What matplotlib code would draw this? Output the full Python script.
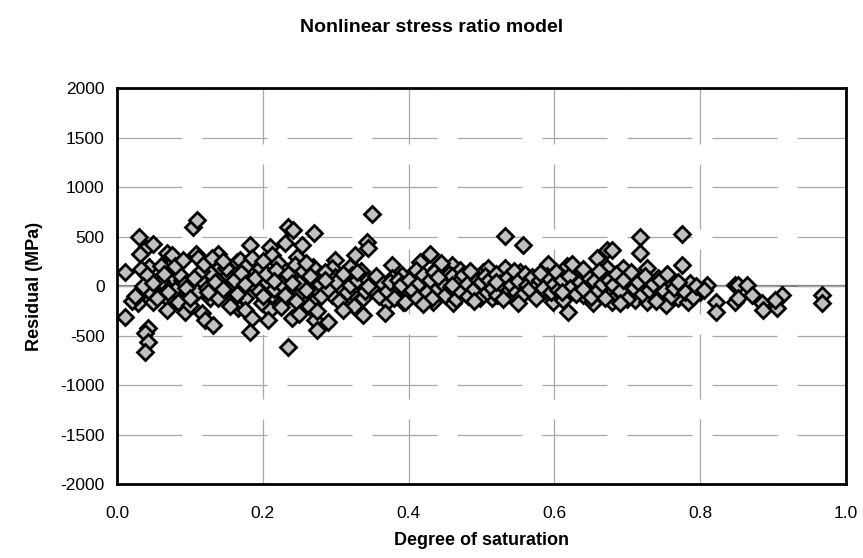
import matplotlib
matplotlib.use("Agg")
import matplotlib.pyplot as plt
from matplotlib.ticker import MultipleLocator

# degree of saturation / residual (MPa)
sat_edge = [0.104, 0.110, 0.030, 0.040, 0.050, 0.031, 0.044, 0.011, 0.033, 0.041,
            0.069, 0.076, 0.108, 0.111, 0.139, 0.141, 0.128, 0.075, 0.089, 0.104,
            0.118, 0.066, 0.080, 0.096, 0.110, 0.123, 0.152, 0.155, 0.030, 0.045,
            0.029, 0.050, 0.069, 0.069, 0.084, 0.093, 0.100, 0.117, 0.121, 0.132,
            0.128, 0.139, 0.011, 0.043, 0.038, 0.043, 0.038, 0.164, 0.166]
res_edge = [596, 667, 495, 384, 424, 323, 192, 141, 172, 111,
            333, 313, 323, 283, 323, 192, 131, 91, 60, 40,
            30, -10, -40, -60, -60, -20, 111, -40, -91, -60,
            -172, -162, -121, -242, -162, -262, -192, -273, -343, -394,
            -121, -121, -313, -424, -475, -565, -667, 242, -222]

sat_low = [0.235, 0.241, 0.270, 0.182, 0.210, 0.230, 0.254, 0.169, 0.185, 0.213,
           0.247, 0.299, 0.326, 0.176, 0.196, 0.221, 0.244, 0.269, 0.295, 0.320,
           0.176, 0.206, 0.221, 0.241, 0.269, 0.299, 0.322, 0.171, 0.189, 0.213,
           0.233, 0.251, 0.274, 0.295, 0.324, 0.176, 0.199, 0.226, 0.254, 0.269,
           0.176, 0.210, 0.240, 0.207, 0.185, 0.182, 0.272, 0.289, 0.274, 0.235,
           0.331, 0.329]
res_low = [596, 566, 535, 414, 394, 434, 414, 263, 283, 313,
           293, 263, 313, 192, 182, 232, 212, 192, 182, 192,
           91, 40, 81, 81, 60, 91, 111, -20, -10, -91,
           -20, -71, -61, -91, -71, -121, -172, -162, -242, -162,
           -242, -242, -323, -343, -323, -465, -343, -363, -444, -616,
           -242, -172]

sat_mid = [0.350, 0.343, 0.345, 0.377, 0.429, 0.416, 0.439, 0.460, 0.471, 0.405,
           0.391, 0.377, 0.443, 0.464, 0.487, 0.502, 0.337, 0.361, 0.395, 0.422,
           0.436, 0.454, 0.477, 0.505, 0.370, 0.368, 0.392, 0.418, 0.434, 0.461,
           0.337, 0.337]
res_mid = [727, 444, 384, 212, 323, 242, 182, 212, 162, 91,
           111, 81, 81, 60, 81, 141, 10, -40, -60, 10,
           -40, -40, -71, -20, -162, -273, -162, -111, -162, -172,
           -121, -293]

sat_high = [0.532, 0.557, 0.591, 0.617, 0.658, 0.673, 0.673, 0.638, 0.532, 0.553,
            0.509, 0.514, 0.532, 0.543, 0.573, 0.569, 0.584, 0.604, 0.615, 0.628,
            0.639, 0.656, 0.669, 0.514, 0.546, 0.598, 0.619, 0.653, 0.679,
            0.717, 0.717, 0.775, 0.775, 0.679, 0.694, 0.727, 0.742, 0.759, 0.786,
            0.809, 0.686, 0.704, 0.720, 0.686, 0.711, 0.727, 0.754, 0.770, 0.783,
            0.800, 0.741, 0.822, 0.822, 0.848, 0.848, 0.694,
            0.852, 0.864, 0.852, 0.871, 0.885, 0.886, 0.912, 0.905, 0.903, 0.967,
            0.967]
res_high = [505, 414, 222, 202, 283, 364, 182, 141, 182, 141,
            182, 10, -40, -10, 40, -71, -61, -91, -71, 40,
            -91, 10, -71, -121, -121, -162, -262, -172, -162,
            495, 333, 525, 212, 364, 182, 182, 81, 40, 30,
            10, 40, 10, 30, -91, -141, -162, -192, -121, -162,
            -61, -91, -162, -262, 10, -162, -91,
            10, 10, -121, -91, -172, -242, -91, -222, -141, -91,
            -172]

# the crowded band, estimated by eye
sat_band = [0.06, 0.07, 0.085, 0.095, 0.115, 0.125, 0.135, 0.145, 0.15, 0.16,
            0.16, 0.17, 0.175, 0.19, 0.195, 0.2, 0.2, 0.205, 0.215, 0.218,
            0.225, 0.23, 0.235, 0.245, 0.25, 0.255, 0.26, 0.263, 0.265, 0.278,
            0.28, 0.285, 0.29, 0.3, 0.305, 0.31, 0.315, 0.32, 0.325, 0.33,
            0.335, 0.34, 0.345, 0.35, 0.355, 0.36, 0.365, 0.37, 0.375, 0.38,
            0.385, 0.39, 0.395, 0.4, 0.405, 0.41, 0.412, 0.415, 0.42, 0.425,
            0.43, 0.432, 0.435, 0.44, 0.445, 0.448, 0.45, 0.455, 0.458, 0.46,
            0.465, 0.468, 0.47, 0.475, 0.48, 0.482, 0.485, 0.49, 0.495, 0.498,
            0.5, 0.505, 0.508, 0.51, 0.515, 0.52, 0.522, 0.525, 0.53, 0.535,
            0.54, 0.545, 0.548, 0.55, 0.555, 0.56, 0.562, 0.565, 0.57, 0.575,
            0.578, 0.58, 0.585, 0.59, 0.595, 0.6, 0.602, 0.605, 0.61, 0.612,
            0.62, 0.622, 0.625, 0.63, 0.635, 0.64, 0.645, 0.65, 0.655, 0.66,
            0.662, 0.665, 0.67, 0.675, 0.68, 0.685, 0.69, 0.695, 0.7, 0.705,
            0.71, 0.715, 0.72, 0.725, 0.73, 0.735, 0.74, 0.745, 0.75, 0.755,
            0.76, 0.765, 0.77, 0.78, 0.79, 0.795, 0.805,
            0.02, 0.025, 0.035, 0.05, 0.055, 0.06, 0.065, 0.08, 0.09, 0.1,
            0.105, 0.12, 0.13, 0.145, 0.155, 0.165,
            0.215, 0.225, 0.24, 0.25, 0.26, 0.275, 0.285, 0.31, 0.33, 0.345,
            0.42, 0.44, 0.46, 0.49, 0.52, 0.55, 0.58, 0.61, 0.64, 0.69]
res_band = [50, -60, 120, -20, 150, -60, 40, -30, 180, 60,
            -120, 130, 20, 80, -50, 250, -100, 120, -30, 160,
            20, -90, 120, -150, 30, 150, -40, -200, 100, 20,
            -100, 140, -30, 40, -150, 120, -60, 10, -200, 60,
            150, -50, 60, -20, 100, -100, 20, -50, 40, -120,
            60, 10, -160, 60, -40, 160, -120, 30, 110, -60,
            60, -120, 140, -20, 230, 20, -90, 120, -10, 100,
            -130, 40, -50, 110, 20, -100, 150, -30, 60, -120,
            40, 100, -60, 60, -20, 120, -90, 30, -130, 80,
            10, 150, -60, 50, -100, 120, 10, -30, 90, -120,
            20, 60, -20, 100, -60, 20, 140, -40, 60, -140,
            100, -20, 220, -80, 40, -30, 100, -110, 50, -40,
            150, 20, -120, 60, 10, 120, -50, 60, -130, 140,
            -20, 40, -80, 100, -40, 20, -150, 60, -50, 120,
            -100, -20, 40, -60, -110, 0, -40,
            -150, -100, 0, 30, -120, 200, 120, 200, 260, -120,
            80, 220, 280, 250, -200, -80,
            50, -210, 30, -280, 230, -250, 60, -240, 140, 0,
            -180, 90, 10, -150, 40, -170, 130, -60, 170, -170]

sat = sat_edge + sat_low + sat_mid + sat_high + sat_band
res = res_edge + res_low + res_mid + res_high + res_band

plt.rcParams['font.family'] = ['Liberation Sans', 'DejaVu Sans']
plt.rcParams['axes.unicode_minus'] = False

fig = plt.figure(figsize=(8.63, 5.58), dpi=100)
ax = fig.add_axes([0.1356, 0.1326, 0.8444, 0.7094])

ax.grid(True, color='#a8a8a8', lw=0.9, linestyle=(0, (52, 16)))
ax.axhline(0, color='#808080', lw=1.6, zorder=1.5)
ax.plot(sat, res, linestyle='none', marker='D', ms=8.3, mfc='#c0c0c0',
        mec='black', mew=2.0, zorder=3)

ax.set_xlim(0, 1.0)
ax.set_ylim(-2000, 2000)
ax.xaxis.set_major_locator(MultipleLocator(0.2))
ax.yaxis.set_major_locator(MultipleLocator(500))
ax.xaxis.set_major_formatter(lambda v, p: f"{v:.1f}")
ax.tick_params(length=0, labelsize=12.5, pad=9)
ax.tick_params(axis='x', pad=16)
for s in ax.spines.values():
    s.set_linewidth(2)
    s.set_zorder(4)

ax.set_xlabel("Degree of saturation", fontsize=13, fontweight='bold', labelpad=8)
ax.set_ylabel("Residual (MPa)", fontsize=13, fontweight='bold', labelpad=12)
fig.text(0.5, 0.95, "Nonlinear stress ratio model", ha='center', va='center',
         fontsize=14, fontweight='bold')

fig.savefig("out.png", dpi=100)
